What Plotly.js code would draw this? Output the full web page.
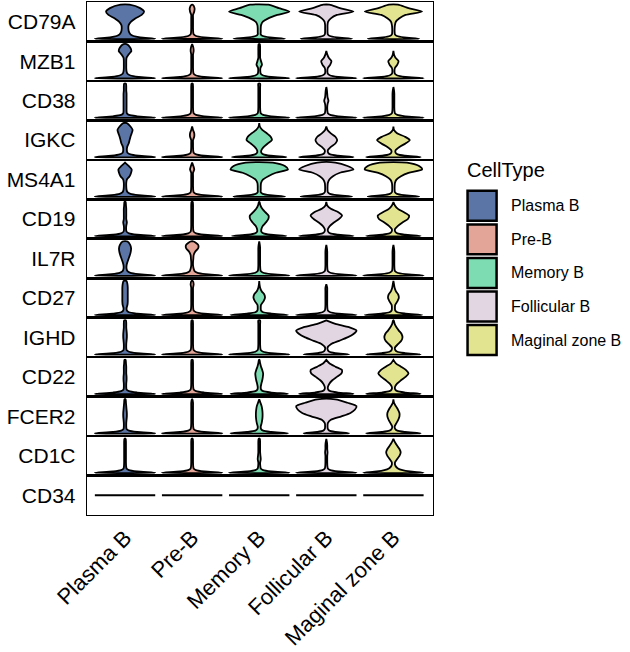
<!DOCTYPE html>
<html>
<head>
<meta charset="utf-8">
<script src="https://cdn.plot.ly/plotly-3.0.1.min.js"></script>
<style>html,body{margin:0;padding:0;background:#fff;}#chart{width:630px;height:652px;}</style>
</head>
<body>
<div id="chart"></div>
<script>
// ---------- data ----------
const genes = ['CD79A','MZB1','CD38','IGKC','MS4A1','CD19','IL7R','CD27','IGHD','CD22','FCER2','CD1C','CD34'];
const cellTypes = ['Plasma B','Pre-B','Memory B','Follicular B','Maginal zone B'];
const cellColors = ['#5b76a6','#e2a597','#7ddcb2','#e3d6e3','#e3e48f'];
// normalised expression levels (0 = lowest, 1 = highest) at which violin widths are read
const levels = [0, 0.04, 0.08, 0.13, 0.2, 0.3, 0.4, 0.5, 0.6, 0.7, 0.8, 0.9, 1.0];
// relative violin widths (1 = widest) per cell type, one array per gene
const CD79A = [
  [1.0,0.5,0.28,0.18,0.13,0.11,0.12,0.2,0.35,0.55,0.63,0.5,0.15],
  [1.0,0.4,0.13,0.05,0.035,0.03,0.03,0.03,0.03,0.03,0.07,0.08,0.02],
  [0.85,0.35,0.12,0.05,0.05,0.05,0.06,0.12,0.3,0.6,1.0,0.65,0.3],
  [0.85,0.35,0.12,0.05,0.04,0.04,0.04,0.06,0.15,0.35,0.9,0.45,0.1],
  [0.85,0.35,0.12,0.05,0.04,0.04,0.05,0.08,0.2,0.4,0.95,0.5,0.15]];
const MZB1 = [
  [1.0,0.45,0.18,0.08,0.05,0.04,0.04,0.04,0.05,0.12,0.21,0.17,0.05],
  [1.0,0.4,0.13,0.05,0.035,0.03,0.03,0.03,0.03,0.03,0.05,0.04,0],
  [1.0,0.4,0.13,0.05,0.035,0.04,0.09,0.06,0.03,0.03,0.03,0.03,0.02],
  [1.0,0.4,0.13,0.05,0.035,0.05,0.13,0.17,0.08,0.03,0,0,0],
  [1.0,0.4,0.13,0.05,0.035,0.05,0.13,0.17,0.07,0.02,0,0,0]];
const CD38 = [
  [1.0,0.4,0.13,0.06,0.05,0.05,0.05,0.05,0.05,0.05,0.04,0.04,0.03],
  [1.0,0.4,0.13,0.05,0.035,0.03,0.03,0.03,0.03,0.03,0.03,0.03,0.02],
  [1.0,0.4,0.13,0.05,0.035,0.03,0.03,0.03,0.03,0.03,0.03,0.03,0.03],
  [1.0,0.4,0.13,0.05,0.035,0.03,0.04,0.07,0.04,0.03,0.02,0,0],
  [1.0,0.4,0.13,0.05,0.035,0.03,0.03,0.03,0.03,0.03,0.02,0,0]];
const IGKC = [
  [1.0,0.45,0.18,0.08,0.06,0.07,0.12,0.15,0.18,0.22,0.25,0.18,0.06],
  [1.0,0.4,0.13,0.05,0.035,0.03,0.03,0.03,0.07,0.07,0.03,0,0],
  [0.9,0.38,0.14,0.07,0.07,0.15,0.28,0.42,0.38,0.25,0.1,0.02,0],
  [0.9,0.38,0.13,0.06,0.05,0.15,0.3,0.36,0.3,0.15,0.04,0,0],
  [0.9,0.38,0.14,0.07,0.07,0.2,0.4,0.54,0.38,0.12,0.02,0,0]];
const MS4A1 = [
  [1.0,0.45,0.18,0.08,0.05,0.04,0.04,0.06,0.15,0.2,0.22,0.12,0],
  [1.0,0.4,0.13,0.05,0.035,0.03,0.03,0.03,0.03,0.03,0.07,0.04,0],
  [0.85,0.35,0.12,0.05,0.05,0.05,0.06,0.12,0.3,0.55,0.95,0.85,0.45],
  [0.85,0.35,0.12,0.05,0.04,0.04,0.05,0.1,0.22,0.45,0.9,0.7,0.3],
  [0.85,0.35,0.12,0.05,0.04,0.04,0.05,0.1,0.25,0.5,0.95,0.85,0.45]];
const CD19 = [
  [1.0,0.4,0.13,0.05,0.035,0.04,0.06,0.04,0.04,0.04,0.04,0.03,0.02],
  [1.0,0.4,0.13,0.05,0.035,0.03,0.03,0.03,0.03,0.03,0.03,0.03,0.02],
  [0.9,0.38,0.14,0.07,0.07,0.12,0.22,0.3,0.31,0.2,0.1,0.04,0.01],
  [0.9,0.38,0.13,0.06,0.05,0.12,0.25,0.42,0.52,0.4,0.15,0.03,0],
  [0.9,0.38,0.13,0.06,0.05,0.15,0.3,0.48,0.52,0.35,0.15,0.05,0]];
const IL7R = [
  [1.0,0.45,0.18,0.08,0.05,0.05,0.08,0.12,0.16,0.19,0.2,0.17,0.08],
  [1.0,0.45,0.18,0.08,0.05,0.03,0.03,0.04,0.05,0.1,0.2,0.2,0.05],
  [1.0,0.4,0.13,0.05,0.035,0.03,0.03,0.03,0.03,0.03,0.03,0.02,0],
  [1.0,0.4,0.13,0.05,0.035,0.03,0.03,0.03,0.03,0.03,0.02,0,0],
  [1.0,0.4,0.13,0.05,0.035,0.03,0.03,0.03,0.03,0.03,0.02,0,0]];
const CD27 = [
  [1.0,0.4,0.13,0.06,0.05,0.08,0.09,0.09,0.09,0.09,0.09,0.08,0.05],
  [1.0,0.4,0.13,0.05,0.035,0.03,0.03,0.03,0.03,0.03,0.03,0.05,0.02],
  [0.95,0.4,0.13,0.06,0.05,0.06,0.14,0.19,0.17,0.08,0.03,0.01,0],
  [1.0,0.4,0.13,0.05,0.035,0.03,0.03,0.03,0.03,0.03,0.03,0,0],
  [0.95,0.4,0.13,0.06,0.05,0.06,0.13,0.18,0.16,0.08,0.04,0.02,0]];
const IGHD = [
  [1.0,0.4,0.13,0.05,0.04,0.04,0.05,0.06,0.06,0.05,0.04,0.04,0.03],
  [1.0,0.4,0.13,0.05,0.035,0.03,0.03,0.03,0.03,0.03,0.03,0.03,0.02],
  [1.0,0.4,0.13,0.05,0.035,0.03,0.03,0.03,0.03,0.03,0.03,0.03,0.03],
  [0.75,0.3,0.1,0.05,0.04,0.15,0.42,0.7,0.9,1.0,0.75,0.3,0],
  [0.9,0.38,0.13,0.06,0.05,0.15,0.26,0.3,0.27,0.18,0.1,0.04,0.01]];
const CD22 = [
  [1.0,0.4,0.13,0.05,0.04,0.04,0.05,0.05,0.04,0.04,0.04,0.03,0.02],
  [1.0,0.4,0.13,0.05,0.035,0.03,0.03,0.03,0.03,0.03,0.03,0.03,0.02],
  [0.95,0.4,0.13,0.06,0.05,0.07,0.1,0.12,0.13,0.1,0.06,0.03,0.01],
  [0.9,0.38,0.13,0.06,0.05,0.1,0.2,0.35,0.5,0.52,0.3,0.1,0],
  [0.9,0.38,0.13,0.06,0.05,0.12,0.25,0.4,0.5,0.42,0.25,0.08,0]];
const FCER2 = [
  [1.0,0.4,0.13,0.05,0.04,0.04,0.05,0.06,0.06,0.05,0.04,0.03,0.02],
  [1.0,0.4,0.13,0.05,0.035,0.03,0.03,0.03,0.03,0.03,0.03,0.03,0.01],
  [0.95,0.4,0.13,0.06,0.05,0.08,0.1,0.11,0.11,0.1,0.08,0.04,0],
  [0.75,0.3,0.1,0.05,0.04,0.05,0.15,0.5,0.8,0.95,1.0,0.7,0.3],
  [0.9,0.38,0.13,0.06,0.04,0.1,0.16,0.2,0.2,0.15,0.08,0.02,0]];
const CD1C = [
  [1.0,0.4,0.13,0.05,0.035,0.03,0.03,0.03,0.03,0.03,0.03,0.03,0.02],
  [1.0,0.4,0.13,0.05,0.035,0.03,0.03,0.03,0.03,0.03,0.03,0.03,0.02],
  [1.0,0.4,0.13,0.05,0.035,0.03,0.05,0.04,0.03,0.03,0.03,0.03,0.02],
  [1.0,0.4,0.13,0.05,0.035,0.03,0.03,0.03,0.04,0.03,0.03,0.02,0],
  [1.0,0.55,0.3,0.15,0.07,0.05,0.12,0.2,0.24,0.2,0.12,0.05,0]];
const CD34 = [
  [1,0,0,0,0,0,0,0,0,0,0,0,0],
  [1,0,0,0,0,0,0,0,0,0,0,0,0],
  [1,0,0,0,0,0,0,0,0,0,0,0,0],
  [1,0,0,0,0,0,0,0,0,0,0,0,0],
  [1,0,0,0,0,0,0,0,0,0,0,0,0]];
const geneData = [CD79A, MZB1, CD38, IGKC, MS4A1, CD19, IL7R, CD27, IGHD, CD22, FCER2, CD1C, CD34];

// ---------- drawing ----------
const FONT = 'Liberation Sans, Arial, Helvetica, sans-serif';
const HALF = 0.45;           // half of the widest violin, in category units
const nRows = genes.length;
const traces = [];
const layout = {
  width: 630, height: 652,
  margin: {l: 87, r: 197, t: 2, b: 137},
  paper_bgcolor: '#fff', plot_bgcolor: '#fff',
  showlegend: false,
  font: {family: FONT, color: '#000'},
  shapes: [], annotations: []
};

geneData.forEach((rows, r) => {
  const xa = r === 0 ? 'x' : 'x' + (r + 1);
  const ya = r === 0 ? 'y' : 'y' + (r + 1);
  let topIdx = 0;
  rows.forEach((dens, c) => {
    let k = 0;
    dens.forEach((d, i) => { if (d > 0) k = i; });
    if (k < levels.length - 1 && k > 0) k = k + 1;
    topIdx = Math.max(topIdx, k);
    const xs = [], ys = [];
    for (let i = 0; i <= k; i++) { xs.push(c + dens[i] * HALF); ys.push(levels[i]); }
    for (let i = k; i >= 0; i--) { xs.push(c - dens[i] * HALF); ys.push(levels[i]); }
    xs.push(xs[0]); ys.push(ys[0]);
    traces.push({
      type: 'scatter', mode: 'lines', x: xs, y: ys,
      xaxis: xa, yaxis: ya,
      fill: 'toself', fillcolor: cellColors[c],
      line: {color: '#000', width: 1.8, shape: 'spline', smoothing: 0.7},
      hoverinfo: 'skip', name: cellTypes[c]
    });
  });
  const yr = topIdx === 0 ? [-0.58, 0.58] : [-0.08, 1.08];
  const d0 = 1 - (r + 1) / nRows, d1 = 1 - r / nRows;
  const last = r === nRows - 1;
  layout[r === 0 ? 'xaxis' : 'xaxis' + (r + 1)] = {
    domain: [0, 1], anchor: ya, range: [-0.567, 4.59],
    tickmode: 'array', tickvals: cellTypes.map((_, i) => i), ticktext: cellTypes,
    showticklabels: last, tickangle: -45, ticks: '',
    tickfont: {family: FONT, size: 22, color: '#000'},
    ticklabelstandoff: 0,
    showline: true, mirror: true, linecolor: '#000', linewidth: 1.3,
    showgrid: false, zeroline: false, fixedrange: true
  };
  layout[r === 0 ? 'yaxis' : 'yaxis' + (r + 1)] = {
    domain: [d0, d1], anchor: xa, range: yr,
    tickmode: 'array', tickvals: [(yr[0] + yr[1]) / 2], ticktext: [genes[r]],
    ticks: '', tickfont: {family: FONT, size: 21, color: '#000'},
    ticklabelstandoff: 6,
    showline: true, mirror: true, linecolor: '#000', linewidth: 1.3,
    showgrid: false, zeroline: false, fixedrange: true
  };
});

// ---------- custom legend ----------
const PX0 = 87, PW = 345.5, PY1 = 515.5, PH = 513.5;
const px2x = px => (px - PX0) / PW;
const py2y = py => (PY1 - py) / PH;
layout.annotations.push({
  xref: 'paper', yref: 'paper', x: px2x(464), y: py2y(170),
  xanchor: 'left', yanchor: 'middle', showarrow: false,
  text: 'CellType', font: {family: FONT, size: 20, color: '#000'}
});
cellTypes.forEach((ct, i) => {
  const top = 191 + i * 33.6;
  layout.shapes.push({
    type: 'rect', xref: 'paper', yref: 'paper',
    x0: px2x(467), x1: px2x(496), y0: py2y(top), y1: py2y(top + 30),
    fillcolor: cellColors[i], line: {color: '#000', width: 2.5}
  });
  layout.annotations.push({
    xref: 'paper', yref: 'paper', x: px2x(508), y: py2y(top + 15),
    xanchor: 'left', yanchor: 'middle', showarrow: false,
    text: ct, font: {family: FONT, size: 16, color: '#000'}
  });
});

Plotly.newPlot('chart', traces, layout, {staticPlot: true, displayModeBar: false});
</script>
</body>
</html>
